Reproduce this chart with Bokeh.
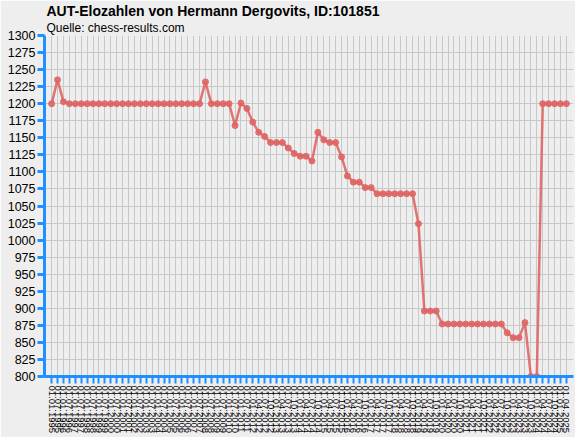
import math
from bokeh.plotting import figure
from bokeh.models import FactorRange, Range1d, FixedTicker, Title, ColumnDataSource
from bokeh.embed import file_html
from bokeh.resources import INLINE

dates = [
    "01.01.1995", "01.07.1995", "01.01.1996", "01.07.1996", "01.01.1997", "01.07.1997",
    "01.01.1998", "01.07.1998", "01.01.1999", "01.07.1999", "01.01.2000", "01.07.2000",
    "01.01.2001", "01.07.2001", "01.01.2002", "01.07.2002", "01.01.2003", "01.07.2003",
    "01.01.2004", "01.07.2004", "01.01.2005", "01.07.2005", "01.01.2006", "01.07.2006",
    "01.01.2007", "01.07.2007", "01.01.2008", "01.07.2008", "01.01.2009", "01.07.2009",
    "01.01.2010", "01.07.2010", "01.01.2011", "01.07.2011",
    "01.01.2012", "01.04.2012", "01.07.2012", "01.10.2012",
    "01.01.2013", "01.04.2013", "01.07.2013", "01.10.2013",
    "01.01.2014", "01.04.2014", "01.07.2014", "01.10.2014",
    "01.01.2015", "01.04.2015", "01.07.2015", "01.10.2015",
    "01.01.2016", "01.04.2016", "01.07.2016", "01.10.2016",
    "01.01.2017", "01.04.2017", "01.07.2017", "01.10.2017",
    "01.01.2018", "01.04.2018", "01.07.2018", "01.10.2018",
    "01.01.2019", "01.04.2019", "01.07.2019", "01.10.2019",
    "01.01.2020", "01.04.2020", "01.07.2020", "01.10.2020",
    "01.01.2021", "01.04.2021", "01.07.2021", "01.10.2021",
    "01.01.2022", "01.04.2022", "01.07.2022", "01.10.2022",
    "01.01.2023", "01.04.2023", "01.07.2023", "01.10.2023",
    "01.01.2024", "01.04.2024", "01.07.2024", "01.10.2024",
    "01.01.2025", "01.04.2025",
]

elo = [
    1200, 1235, 1203, 1200, 1200, 1200, 1200, 1200, 1200, 1200,
    1200, 1200, 1200, 1200, 1200, 1200, 1200, 1200, 1200, 1200,
    1200, 1200, 1200, 1200, 1200, 1200, 1232, 1200, 1200, 1200,
    1200, 1168, 1201, 1193, 1173, 1158, 1152, 1143, 1143, 1143,
    1135, 1127, 1123, 1123, 1116, 1158, 1147, 1143, 1143, 1122,
    1094, 1085, 1085, 1077, 1077, 1068, 1068, 1068, 1068, 1068,
    1068, 1068, 1024, 896, 896, 896, 877, 877, 877, 877,
    877, 877, 877, 877, 877, 877, 877, 864, 857, 857,
    879, 800, 800, 1200, 1200, 1200, 1200, 1200,
]

y_ticks = list(range(800, 1301, 25))

title_text = "AUT-Elozahlen von Hermann Dergovits, ID:101851"
subtitle_text = "Quelle: chess-results.com"

BG = "#EEEEEE"
BLUE = "#1E90FF"
RED = "#DF6565"
FONT = "Liberation Sans"

src = ColumnDataSource(data=dict(date=dates, elo=elo))

p = figure(
    x_range=FactorRange(factors=dates, range_padding=0.7, range_padding_units="absolute"),
    y_range=Range1d(800, 1300),
    width=575, height=437,
    output_backend="svg", toolbar_location=None,
    min_border_left=44, min_border_right=2, min_border_top=35, min_border_bottom=61,
    background_fill_color=BG, border_fill_color=BG,
    outline_line_color=None,
    title=title_text,
)

p.title.text_font = FONT
p.title.text_font_size = "14px"
p.title.text_font_style = "bold"
p.title.text_color = "#000000"
p.title.offset = 2
p.title.standoff = 0
p.title.text_line_height = 1.0

sub_title = Title(text=subtitle_text, text_font=FONT, text_font_size="12px",
                  text_font_style="normal", text_color="#000000", offset=2,
                  standoff=1, text_line_height=1.0)
p.add_layout(sub_title, "above")

p.line(x="date", y="elo", source=src, line_color=RED, line_width=2.5, line_alpha=0.9)
p.scatter(x="date", y="elo", source=src, size=6, fill_color=RED, line_color=RED,
          fill_alpha=0.9, line_alpha=0.9)

# grids
p.xgrid.grid_line_color = "#C8C8C8"
p.xgrid.grid_line_width = 1
p.ygrid.grid_line_color = "#C8C8C8"
p.ygrid.grid_line_width = 1
p.ygrid.ticker = FixedTicker(ticks=y_ticks)

# y axis
p.yaxis.ticker = FixedTicker(ticks=y_ticks)
p.yaxis.axis_line_color = BLUE
p.yaxis.axis_line_width = 3
p.yaxis.major_tick_line_color = BLUE
p.yaxis.major_tick_line_width = 3
p.yaxis.major_tick_out = 7
p.yaxis.major_tick_in = 0
p.yaxis.minor_tick_line_color = None
p.yaxis.major_label_standoff = 2
p.yaxis.major_label_text_font = FONT
p.yaxis.major_label_text_font_size = "12.5px"
p.yaxis.major_label_text_color = "#000000"

# x axis
p.xaxis.axis_line_color = BLUE
p.xaxis.axis_line_width = 3
p.xaxis.major_tick_line_color = BLUE
p.xaxis.major_tick_line_width = 2
p.xaxis.major_tick_out = 7
p.xaxis.major_tick_in = 0
p.xaxis.minor_tick_line_color = None
p.xaxis.major_label_orientation = -math.pi / 2
p.xaxis.major_label_standoff = 2
p.xaxis.major_label_text_font = FONT
p.xaxis.major_label_text_font_size = "9.5px"
p.xaxis.major_label_text_color = "#000000"

open("out.html", "w").write(file_html(p, INLINE))
